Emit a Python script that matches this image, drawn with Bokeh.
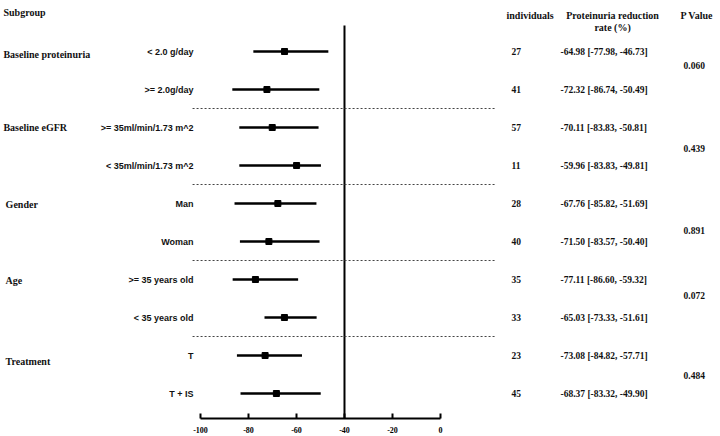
from bokeh.plotting import figure
from bokeh.models import Range1d, LinearAxis, FixedTicker, ColumnDataSource
from bokeh.core.properties import value
from bokeh.embed import file_html
from bokeh.resources import INLINE

# Subgroup data
subgroups = ["< 2.0 g/day", ">= 2.0g/day", ">= 35ml/min/1.73 m^2", "< 35ml/min/1.73 m^2",
             "Man", "Woman", ">= 35 years old", "< 35 years old", "T", "T + IS"]
individuals = [27, 41, 57, 11, 28, 40, 35, 33, 23, 45]
estimate = [-64.98, -72.32, -70.11, -59.96, -67.76, -71.50, -77.11, -65.03, -73.08, -68.37]
ci_low = [-77.98, -86.74, -83.83, -83.83, -85.82, -83.57, -86.60, -73.33, -84.82, -83.32]
ci_high = [-46.73, -50.49, -50.81, -49.81, -51.69, -50.40, -59.32, -51.61, -57.71, -49.90]
groups = ["Baseline proteinuria", "Baseline eGFR", "Gender", "Age", "Treatment"]
p_values = ["0.060", "0.439", "0.891", "0.072", "0.484"]
x_ticks = [-100, -80, -60, -40, -20, 0]

# layout (row units on y, percent units on x)
rows = list(range(len(subgroups)))
group_y = [0.08, 2.0, 4.02, 6.02, 8.15]
group_x = [-182.1, -182.1, -181.2, -181.2, -181.2]
p_y = [0.37, 2.55, 4.71, 6.42, 8.53]
separators = [1.5, 3.5, 5.5, 7.5]

SERIF = value("Liberation Serif")
SANS = value("Liberation Sans")

p = figure(width=720, height=436, output_backend="svg", toolbar_location=None,
           x_range=Range1d(-183.33, 116.67), y_range=Range1d(367 / 38, -51 / 38),
           x_axis_type=None, y_axis_type=None,
           min_border_left=0, min_border_right=0, min_border_top=0, min_border_bottom=18)
p.outline_line_color = None
p.xgrid.visible = False
p.ygrid.visible = False
p.background_fill_color = "white"

axis = LinearAxis(ticker=FixedTicker(ticks=x_ticks), bounds=(-100, 0))
axis.major_label_overrides = {t: str(t) for t in x_ticks}
axis.major_tick_in = 5
axis.major_tick_out = 0
axis.minor_tick_line_color = None
axis.axis_line_width = 2
axis.major_tick_line_width = 2
axis.major_label_standoff = 8
axis.major_label_text_font = "Liberation Serif"
axis.major_label_text_font_style = "bold"
axis.major_label_text_font_size = "8px"
axis.major_label_text_color = "black"
p.add_layout(axis, "below")

# reference line at -40
p.segment(x0=[-40], y0=[-0.684], x1=[-40], y1=[367 / 38], line_color="black", line_width=2)

# group separators
p.segment(x0=[-103.3] * len(separators), y0=separators, x1=[23.3] * len(separators), y1=separators,
          line_color="#444444", line_width=1, line_dash="2 2")

src = ColumnDataSource(dict(
    y=rows, sub=subgroups, n=[str(v) for v in individuals], est=estimate, lo=ci_low, hi=ci_high,
    txt=[f"{e:.2f} [{l:.2f}, {h:.2f}]" for e, l, h in zip(estimate, ci_low, ci_high)],
))

p.segment(x0="lo", y0="y", x1="hi", y1="y", source=src, line_color="black", line_width=2.5)
p.scatter(x="est", y="y", source=src, marker="square", size=6, fill_color="black", line_color="black")

# subgroup labels
p.text(x=-102.9, y="y", text="sub", source=src, text_align="right", text_baseline="middle",
       text_font=SANS, text_font_style="bold", text_font_size="9px", text_color="#111111")

# individuals and estimate columns
p.text(x=29.6, y="y", text="n", source=src, text_align="left", text_baseline="middle",
       text_font=SERIF, text_font_style="bold", text_font_size="9.5px", text_color="#111111")
p.text(x=50.0, y="y", text="txt", source=src, text_align="left", text_baseline="middle",
       text_font=SERIF, text_font_style="bold", text_font_size="9.5px", text_color="#111111")

# group labels
p.text(x=group_x, y=group_y, text=groups, text_align="left", text_baseline="middle",
       text_font=SERIF, text_font_style="bold", text_font_size="10px", text_color="#111111")

# p values
p.text(x=[101.3] * len(p_values), y=p_y, text=p_values, text_align="left", text_baseline="middle",
       text_font=SERIF, text_font_style="bold", text_font_size="9.5px", text_color="#111111")

# column headers
p.text(x=[-182.1, 27.5, 100.0], y=[(12 - 51) / 38, (15 - 51) / 38, (15 - 51) / 38],
       text=["Subgroup", "individuals", "P Value"], text_align="left", text_baseline="middle",
       text_font=SERIF, text_font_style="bold", text_font_size="10px", text_color="#111111")
p.text(x=[71.7, 71.7], y=[(15 - 51) / 38, (27 - 51) / 38],
       text=["Proteinuria reduction", "rate (%)"], text_align="center", text_baseline="middle",
       text_font=SERIF, text_font_style="bold", text_font_size="10px", text_color="#111111")

open("out.html", "w").write(file_html(p, INLINE))
